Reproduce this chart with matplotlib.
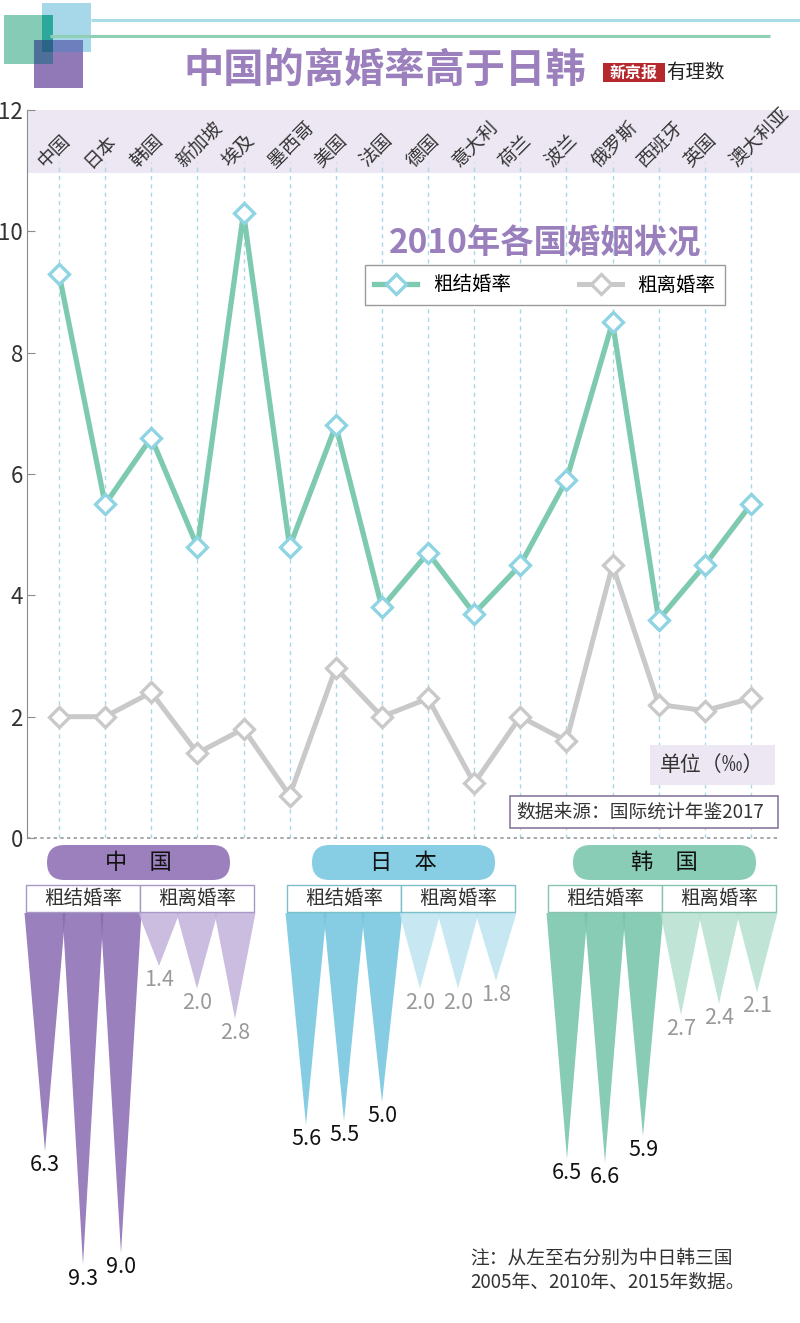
import numpy as np
import matplotlib
matplotlib.use("Agg")
import matplotlib.pyplot as plt
from matplotlib.patches import Rectangle, FancyBboxPatch

plt.rcParams["font.family"] = ["Noto Sans CJK SC", "DejaVu Sans"]

# 2010 data for 16 countries
countries = ["中国", "日本", "韩国", "新加坡", "埃及", "墨西哥", "美国", "法国",
             "德国", "意大利", "荷兰", "波兰", "俄罗斯", "西班牙", "英国", "澳大利亚"]
marriage = [9.3, 5.5, 6.6, 4.8, 10.3, 4.8, 6.8, 3.8, 4.7, 3.7, 4.5, 5.9, 8.5, 3.6, 4.5, 5.5]
divorce = [2.0, 2.0, 2.4, 1.4, 1.8, 0.7, 2.8, 2.0, 2.3, 0.9, 2.0, 1.6, 4.5, 2.2, 2.1, 2.3]
yticks = [0, 2, 4, 6, 8, 10, 12]

# 2005 / 2010 / 2015 for China, Japan, Korea
groups = ["中　国", "日　本", "韩　国"]
group_marriage = [[6.3, 9.3, 9.0], [5.6, 5.5, 5.0], [6.5, 6.6, 5.9]]
group_divorce = [[1.4, 2.0, 2.8], [2.0, 2.0, 1.8], [2.7, 2.4, 2.1]]

W, H = 800, 1323
PURPLE = "#9b80bd"
TEAL = "#7ecab0"


def px(x0, y0, x1, y1):
    return [x0 / W, 1 - y1 / H, (x1 - x0) / W, (y1 - y0) / H]


fig = plt.figure(figsize=(W / 100, H / 100), dpi=100)

# ---- line chart ----
ax = fig.add_axes(px(27, 110, 800, 838))
ax.patch.set_alpha(0)
step = 46.13
ax.set_xlim((27 - 59) / step, (800 - 59) / step)
ax.set_ylim(0, 12)
ypp = 12 / (838 - 110)  # value per pixel
x = np.arange(len(countries))

ax.axhspan(12 - (173 - 110) * ypp, 12, color="#ece7f3", zorder=0, lw=0)
for xi in x:
    ax.plot([xi, xi], [0, (838 - 162) * ypp], ls=(0, (3, 3)), color="#a9d7e6", lw=1, zorder=1)

l1, = ax.plot(x, marriage, color=TEAL, lw=3.8, marker="D", ms=10, mfc="white",
              mec="#8fd4e2", mew=2.4, label="粗结婚率", zorder=3)
l2, = ax.plot(x, divorce, color="#c9c9c9", lw=3.6, marker="D", ms=10, mfc="white",
              mec="#c9c9c9", mew=2.4, label="粗离婚率", zorder=3)

for i, name in enumerate(countries):
    ax.text(i - 18 / step, (838 - 164) * ypp, name, rotation=45, rotation_mode="anchor",
            ha="left", va="center", fontsize=13.5, color="#333333")

for s in ["top", "right", "bottom"]:
    ax.spines[s].set_visible(False)
ax.spines["left"].set_color("#8c8c8c")
ax.axhline(0, xmax=(777 - 27) / 773, color="#999999", ls=(0, (2, 2)), lw=1.2, clip_on=False)
ax.set_xticks([])
ax.set_yticks(yticks)
ax.tick_params(axis="y", direction="in", length=6, color="#8c8c8c", labelsize=16,
               labelcolor="#333333", pad=3)

leg = ax.legend(handles=[l1, l2], loc="center", ncol=2, mode="expand",
                bbox_to_anchor=(355 / W, 1 - 306 / H, 380 / W, 42 / H),
                bbox_transform=fig.transFigure, fancybox=False, edgecolor="#9a9a9a",
                fontsize=14, handlelength=2.2, borderpad=0.5, framealpha=1)
leg.get_frame().set_linewidth(1)

# ---- overlay (pixel coords) ----
ov = fig.add_axes([0, 0, 1, 1], zorder=3)
ov.set_xlim(0, W)
ov.set_ylim(H, 0)
ov.axis("off")


def rect(x0, y0, x1, y1, **kw):
    ov.add_patch(Rectangle((x0, y0), x1 - x0, y1 - y0, **kw))


rect(4, 15, 53, 64, color="#85cbb5", lw=0)
rect(42, 3, 91, 52, color="#a6d8ea", lw=0)
rect(34, 40, 83, 88, color="#9179b8", lw=0)
rect(42, 15, 53, 52, color="#2ba79c", lw=0)
rect(34, 40, 53, 64, color="#4e6f97", lw=0)
rect(42, 40, 83, 52, color="#6d80bd", lw=0)
rect(42, 40, 53, 52, color="#2a6487", lw=0)
ov.plot([91, 800], [20, 20], color="#aadce8", lw=2.2, solid_capstyle="butt")
ov.plot([50, 770], [36, 36], color="#8fcfb5", lw=2.2, solid_capstyle="butt")

ov.text(385, 70, "中国的离婚率高于日韩", ha="center", va="center", fontsize=29,
        fontweight="bold", color=PURPLE)
rect(603, 63, 665, 82, color="#b5282d", lw=0)
ov.text(634, 72.5, "新京报", ha="center", va="center", fontsize=11.5, fontweight="bold",
        color="white")
ov.text(695, 72, "有理数", ha="center", va="center", fontsize=14, color="#222222",
        fontstyle="italic")

ov.text(545, 244, "2010年各国婚姻状况", ha="center", va="center", fontsize=24,
        fontweight="bold", color="#9a7fbd")

rect(650, 745, 775, 785, color="#ece7f3", lw=0)
ov.text(712, 765, "单位（‰）", ha="center", va="center", fontsize=15, color="#333333")
rect(510, 796, 778, 828, fc="white", ec="#8a7a9e", lw=1.2)
ov.text(516, 812, "数据来源：国际统计年鉴2017", ha="left", va="center", fontsize=13.5,
        color="#333333")

# ---- China / Japan / Korea triangles ----
pill_x = [47, 312, 573]
pill_col = [PURPLE, "#87cde3", "#8acdb6"]
box_ec = ["#a898c6", "#7bbfc9", "#88c3b0"]
mar_col = ["#896ab1", "#71c4de", "#74c3a9"]
div_col = ["#c2b2db", "#bee4f0", "#b5e1d1"]
start_x = [26, 287, 548]
slot = 38

for g in range(3):
    ov.add_patch(FancyBboxPatch((pill_x[g], 845), 183, 35,
                                boxstyle="round,pad=0,rounding_size=17.5",
                                fc=pill_col[g], ec="none"))
    ov.text(pill_x[g] + 91.5, 862.5, groups[g], ha="center", va="center", fontsize=16,
            color="#111111")
    s0 = start_x[g]
    rect(s0, 885, s0 + 3 * slot, 912, fc="white", ec=box_ec[g], lw=1)
    rect(s0 + 3 * slot, 885, s0 + 6 * slot, 912, fc="white", ec=box_ec[g], lw=1)
    ov.text(s0 + 1.5 * slot, 898.5, "粗结婚率", ha="center", va="center", fontsize=14,
            color="#333333")
    ov.text(s0 + 4.5 * slot, 898.5, "粗离婚率", ha="center", va="center", fontsize=14,
            color="#333333")

tax = fig.add_axes(px(0, 913, 800, 1313), zorder=2)
tax.patch.set_alpha(0)
unit = 37.8  # px per value unit
tax.set_xlim(0, W)
tax.set_ylim(400 / unit, 0)
tax.axis("off")

for g in range(3):
    s0 = start_x[g]
    series = [(group_marriage[g], mar_col[g], "#111111", 0),
              (group_divorce[g], div_col[g], "#999999", 3)]
    for vals, col, tcol, off in series:
        for k, v in enumerate(vals):
            x0 = s0 + (off + k) * slot
            tax.fill([x0 - 1.5, x0 + slot + 1.5, x0 + slot / 2], [0, 0, v],
                     color=col, alpha=0.85, lw=0)
            tax.text(x0 + slot / 2, v + 0.08, f"{v:.1f}", ha="center", va="top",
                     fontsize=15.5, color=tcol)

ov.text(470, 1258, "注：从左至右分别为中日韩三国", ha="left", va="center", fontsize=13.5,
        color="#333333")
ov.text(470, 1282, "2005年、2010年、2015年数据。", ha="left", va="center", fontsize=13.5,
        color="#333333")

fig.savefig("out.png", dpi=100)
